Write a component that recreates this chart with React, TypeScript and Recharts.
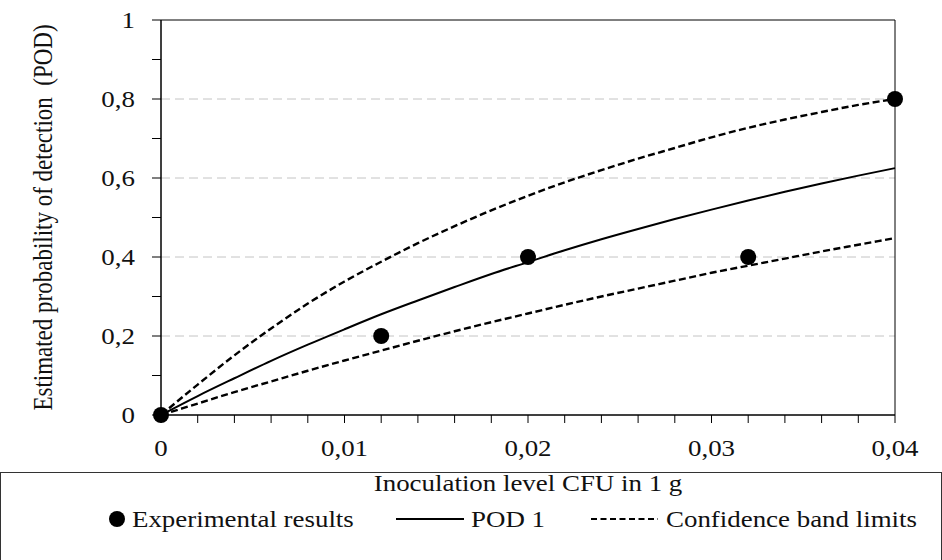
import React from "react";
import {
  ComposedChart,
  Line,
  Scatter,
  XAxis,
  YAxis,
  CartesianGrid,
  ReferenceArea,
} from "recharts";

// Inoculation levels (CFU in 1 g) used for the fitted curves
const xLevels = [
  0, 0.002, 0.004, 0.006, 0.008, 0.01, 0.012, 0.014, 0.016, 0.018, 0.02,
  0.022, 0.024, 0.026, 0.028, 0.03, 0.032, 0.034, 0.036, 0.038, 0.04,
];
// POD 1 fitted curve
const podFit = [
  0, 0.048, 0.093, 0.137, 0.178, 0.217, 0.255, 0.29, 0.324, 0.357, 0.387,
  0.417, 0.445, 0.471, 0.496, 0.52, 0.543, 0.565, 0.586, 0.606, 0.625,
];
// Upper confidence band limit
const upperBand = [
  0, 0.077, 0.151, 0.219, 0.282, 0.338, 0.388, 0.435, 0.478, 0.518, 0.555,
  0.589, 0.62, 0.649, 0.676, 0.703, 0.727, 0.748, 0.767, 0.785, 0.8,
];
// Lower confidence band limit
const lowerBand = [
  0, 0.029, 0.058, 0.085, 0.112, 0.138, 0.163, 0.188, 0.212, 0.235, 0.257,
  0.279, 0.3, 0.32, 0.34, 0.36, 0.378, 0.396, 0.414, 0.431, 0.448,
];
// Experimental results
const expLevels = [0, 0.012, 0.02, 0.032, 0.04];
const expPod = [0, 0.2, 0.4, 0.4, 0.8];

const xTicks = xLevels;
const yTicks = [0, 0.1, 0.2, 0.3, 0.4, 0.5, 0.6, 0.7, 0.8, 0.9, 1];
const gridValues = [0.2, 0.4, 0.6, 0.8];

const xTitle = "Inoculation level CFU in 1 g";
const yTitle = "Estimated probability of detection  (POD)";
const legendLabels = ["Experimental results", "POD 1", "Confidence band limits"];

const rows = xLevels.map((x, i) => ({
  x,
  pod: podFit[i],
  upper: upperBand[i],
  lower: lowerBand[i],
}));
const expRows = expLevels.map((x, i) => ({ x, exp: expPod[i] }));

const FONT = "'Liberation Serif', 'Times New Roman', serif";
const FS = 23;
const SX = 1.17;

const fmt = (v: number) => String(Number(v.toFixed(4))).replace(".", ",");

const XTick = (props: any) => {
  const { x, y, payload } = props;
  const v = payload.value;
  const major = Math.abs(v * 100 - Math.round(v * 100)) < 1e-6;
  if (!major) return null;
  return (
    <g transform={`translate(${x},${y})`}>
      <text
        transform={`scale(${SX},1)`}
        x={0}
        y={33}
        textAnchor="middle"
        fontFamily={FONT}
        fontSize={FS}
        fill="#111"
      >
        {fmt(v)}
      </text>
    </g>
  );
};

const YTick = (props: any) => {
  const { x, y, payload } = props;
  const v = payload.value;
  const major = Math.abs(v * 5 - Math.round(v * 5)) < 1e-6;
  if (!major) return null;
  return (
    <g transform={`translate(${x},${y})`}>
      <text
        transform={`scale(${SX},1)`}
        x={0}
        y={8}
        textAnchor="end"
        fontFamily={FONT}
        fontSize={FS}
        fill="#111"
      >
        {fmt(v)}
      </text>
    </g>
  );
};

const Dot = (props: any) => {
  const { cx, cy } = props;
  return <circle cx={cx} cy={cy} r={8} fill="#000" />;
};

const YTitle = (props: any) => {
  const vb = props.viewBox || {};
  const cy = (vb.y ?? 20) + (vb.height ?? 395) / 2;
  return (
    <text
      transform={`translate(52,${cy}) rotate(-90) scale(1,${SX})`}
      x={0}
      y={0}
      textAnchor="middle"
      fontFamily={FONT}
      fontSize={FS}
      fill="#111"
      style={{ whiteSpace: "pre" }}
    >
      {yTitle}
    </text>
  );
};

const XTitle = (props: any) => {
  const vb = props.viewBox || {};
  const cx = (vb.x ?? 161) + (vb.width ?? 734) / 2;
  return (
    <text
      transform={`translate(${cx},491) scale(${SX},1)`}
      x={0}
      y={0}
      textAnchor="middle"
      fontFamily={FONT}
      fontSize={FS}
      fill="#111"
    >
      {xTitle}
    </text>
  );
};

const LegendOverlay = () => (
  <svg
    width={942}
    height={560}
    style={{ position: "absolute", left: 0, top: 0, pointerEvents: "none" }}
  >
    <rect x={0.5} y={472.5} width={941} height={100} fill="none" stroke="#333" strokeWidth={1} />
    <circle cx={117} cy={519} r={8} fill="#000" />
    <text transform={`translate(132,527) scale(${SX},1)`} fontFamily={FONT} fontSize={FS} fill="#111">
      {legendLabels[0]}
    </text>
    <line x1={396} y1={519} x2={464} y2={519} stroke="#000" strokeWidth={2} />
    <text transform={`translate(471,527) scale(${SX},1)`} fontFamily={FONT} fontSize={FS} fill="#111">
      {legendLabels[1]}
    </text>
    <line x1={591} y1={519} x2={658} y2={519} stroke="#000" strokeWidth={2} strokeDasharray="6 3.5" />
    <text transform={`translate(666,527) scale(${SX},1)`} fontFamily={FONT} fontSize={FS} fill="#111">
      {legendLabels[2]}
    </text>
  </svg>
);

export default function App() {
  return (
    <div style={{ position: "absolute", left: 0, top: 0, width: 942, height: 560, background: "#fff" }}>
      <ComposedChart
        width={942}
        height={560}
        data={rows}
        margin={{ top: 20, right: 47, bottom: 105, left: 0 }}
      >
        <CartesianGrid
          vertical={false}
          horizontalValues={gridValues}
          stroke="#c4c4c4"
          strokeDasharray="9 5"
        />
        <XAxis
          dataKey="x"
          type="number"
          domain={[0, 0.04]}
          ticks={xTicks}
          interval={0}
          height={40}
          tickSize={8}
          tickMargin={0}
          axisLine={{ stroke: "#000" }}
          tickLine={{ stroke: "#000" }}
          tick={<XTick />}
          label={<XTitle />}
        />
        <YAxis
          type="number"
          domain={[0, 1]}
          ticks={yTicks}
          interval={0}
          width={161}
          tickSize={9}
          tickMargin={17}
          axisLine={{ stroke: "#000" }}
          tickLine={{ stroke: "#000" }}
          tick={<YTick />}
          label={<YTitle />}
        />
        <ReferenceArea x1={0} x2={0.04} y1={0} y2={1} fill="none" stroke="#000" strokeWidth={1} ifOverflow="visible" />
        <Line type="monotone" dataKey="upper" stroke="#000" strokeWidth={2.4} strokeDasharray="7 3.5" dot={false} isAnimationActive={false} />
        <Line type="monotone" dataKey="lower" stroke="#000" strokeWidth={2.4} strokeDasharray="7 3.5" dot={false} isAnimationActive={false} />
        <Line type="monotone" dataKey="pod" stroke="#000" strokeWidth={2} dot={false} isAnimationActive={false} />
        <Scatter data={expRows} dataKey="exp" shape={<Dot />} isAnimationActive={false} />
      </ComposedChart>
      <LegendOverlay />
    </div>
  );
}
